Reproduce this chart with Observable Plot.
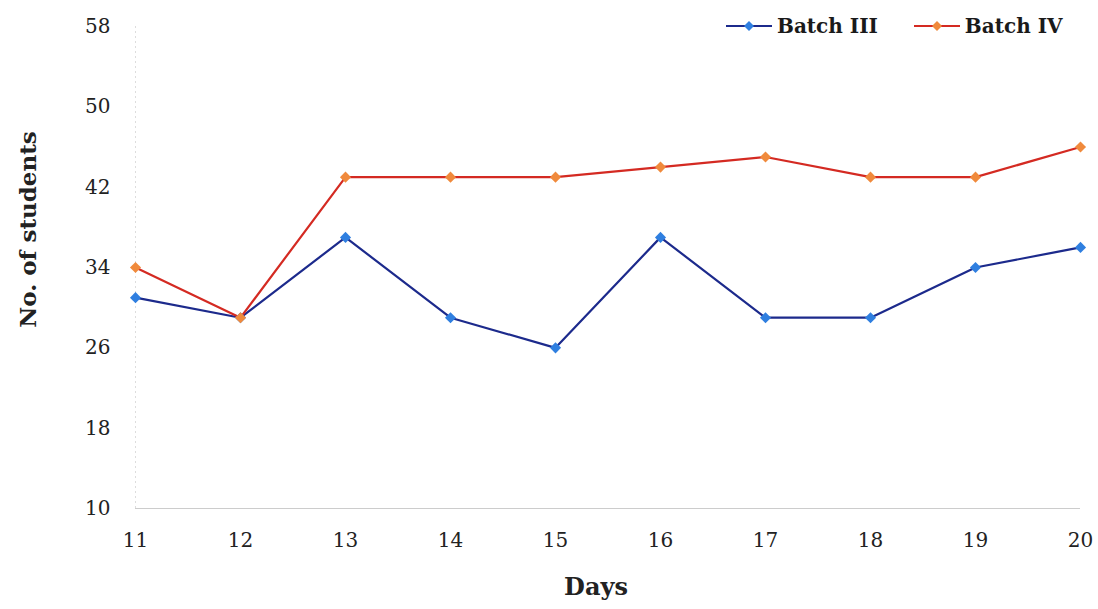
<!DOCTYPE html>
<html>
<head>
<meta charset="utf-8">
<script src="https://cdn.jsdelivr.net/npm/d3@7"></script>
<script src="https://cdn.jsdelivr.net/npm/@observablehq/plot@0.6"></script>
<style>
  html, body { margin: 0; padding: 0; background: #fff; }
  #wrap { position: relative; width: 1098px; height: 609px; }
  #legend { position: absolute; top: 14px; left: 726px; display: flex; gap: 36px;
    font-family: "DejaVu Serif", "Liberation Serif", serif; font-weight: bold; font-size: 20px; color: #1a1a1a; }
  .item { display: flex; align-items: center; gap: 5px; }
</style>
</head>
<body>
<div id="wrap"><div id="legend"></div></div>
<script>
const days = [11, 12, 13, 14, 15, 16, 17, 18, 19, 20];
const batch3 = [31, 29, 37, 29, 26, 37, 29, 29, 34, 36];
const batch4 = [34, 29, 43, 43, 43, 44, 45, 43, 43, 46];
const yTicks = [10, 18, 26, 34, 42, 50, 58];
const seriesNames = ["Batch III", "Batch IV"];
const lineColors = ["#1c2a8c", "#d42a22"];
const markColors = ["#2f7fe0", "#f08a3c"];

const rows = [];
[batch3, batch4].forEach((vals, s) => days.forEach((d, i) => rows.push({series: seriesNames[s], day: d, value: vals[i]})));

const font = "'DejaVu Serif', 'Liberation Serif', serif";
const chart = Plot.plot({
  width: 1098,
  height: 609,
  marginLeft: 135,
  marginRight: 18,
  marginTop: 26,
  marginBottom: 101,
  style: {fontFamily: font, fontSize: "20px", color: "#222", background: "#fff"},
  x: {domain: [11, 20], ticks: days, tickSize: 0, tickPadding: 24, tickFormat: d => String(d), label: null},
  y: {domain: [10, 58], ticks: yTicks, tickSize: 0, tickPadding: 25, label: null},
  color: {domain: seriesNames, range: lineColors},
  marks: [
    Plot.ruleX([11], {stroke: "#ddd", strokeDasharray: "2,3"}),
    Plot.ruleY([10], {stroke: "#ccc", strokeWidth: 1}),
    Plot.line(rows, {x: "day", y: "value", z: "series", stroke: "series", strokeWidth: 2.2}),
    Plot.dot(rows, {x: "day", y: "value", symbol: "diamond2", r: 5,
      fill: d => markColors[seriesNames.indexOf(d.series)], stroke: "none"}),
    Plot.text(["No. of students"], {frameAnchor: "left", textAnchor: "middle", dx: -107, dy: -38, rotate: -90, fontWeight: "bold", fontSize: 23, fill: "#222"}),
    Plot.text(["Days"], {frameAnchor: "bottom", dx: -12, dy: 86, fontWeight: "bold", fontSize: 24, fill: "#222"})
  ]
});
document.getElementById("wrap").prepend(chart);

const legend = document.getElementById("legend");
seriesNames.forEach((name, i) => {
  const item = document.createElement("div");
  item.className = "item";
  item.innerHTML = `<svg width="46" height="14"><line x1="0" y1="7" x2="46" y2="7" stroke="${lineColors[i]}" stroke-width="2"/><path d="M23 2 L28 7 L23 12 L18 7 Z" fill="${markColors[i]}"/></svg><span>${name}</span>`;
  legend.appendChild(item);
});
</script>
</body>
</html>
